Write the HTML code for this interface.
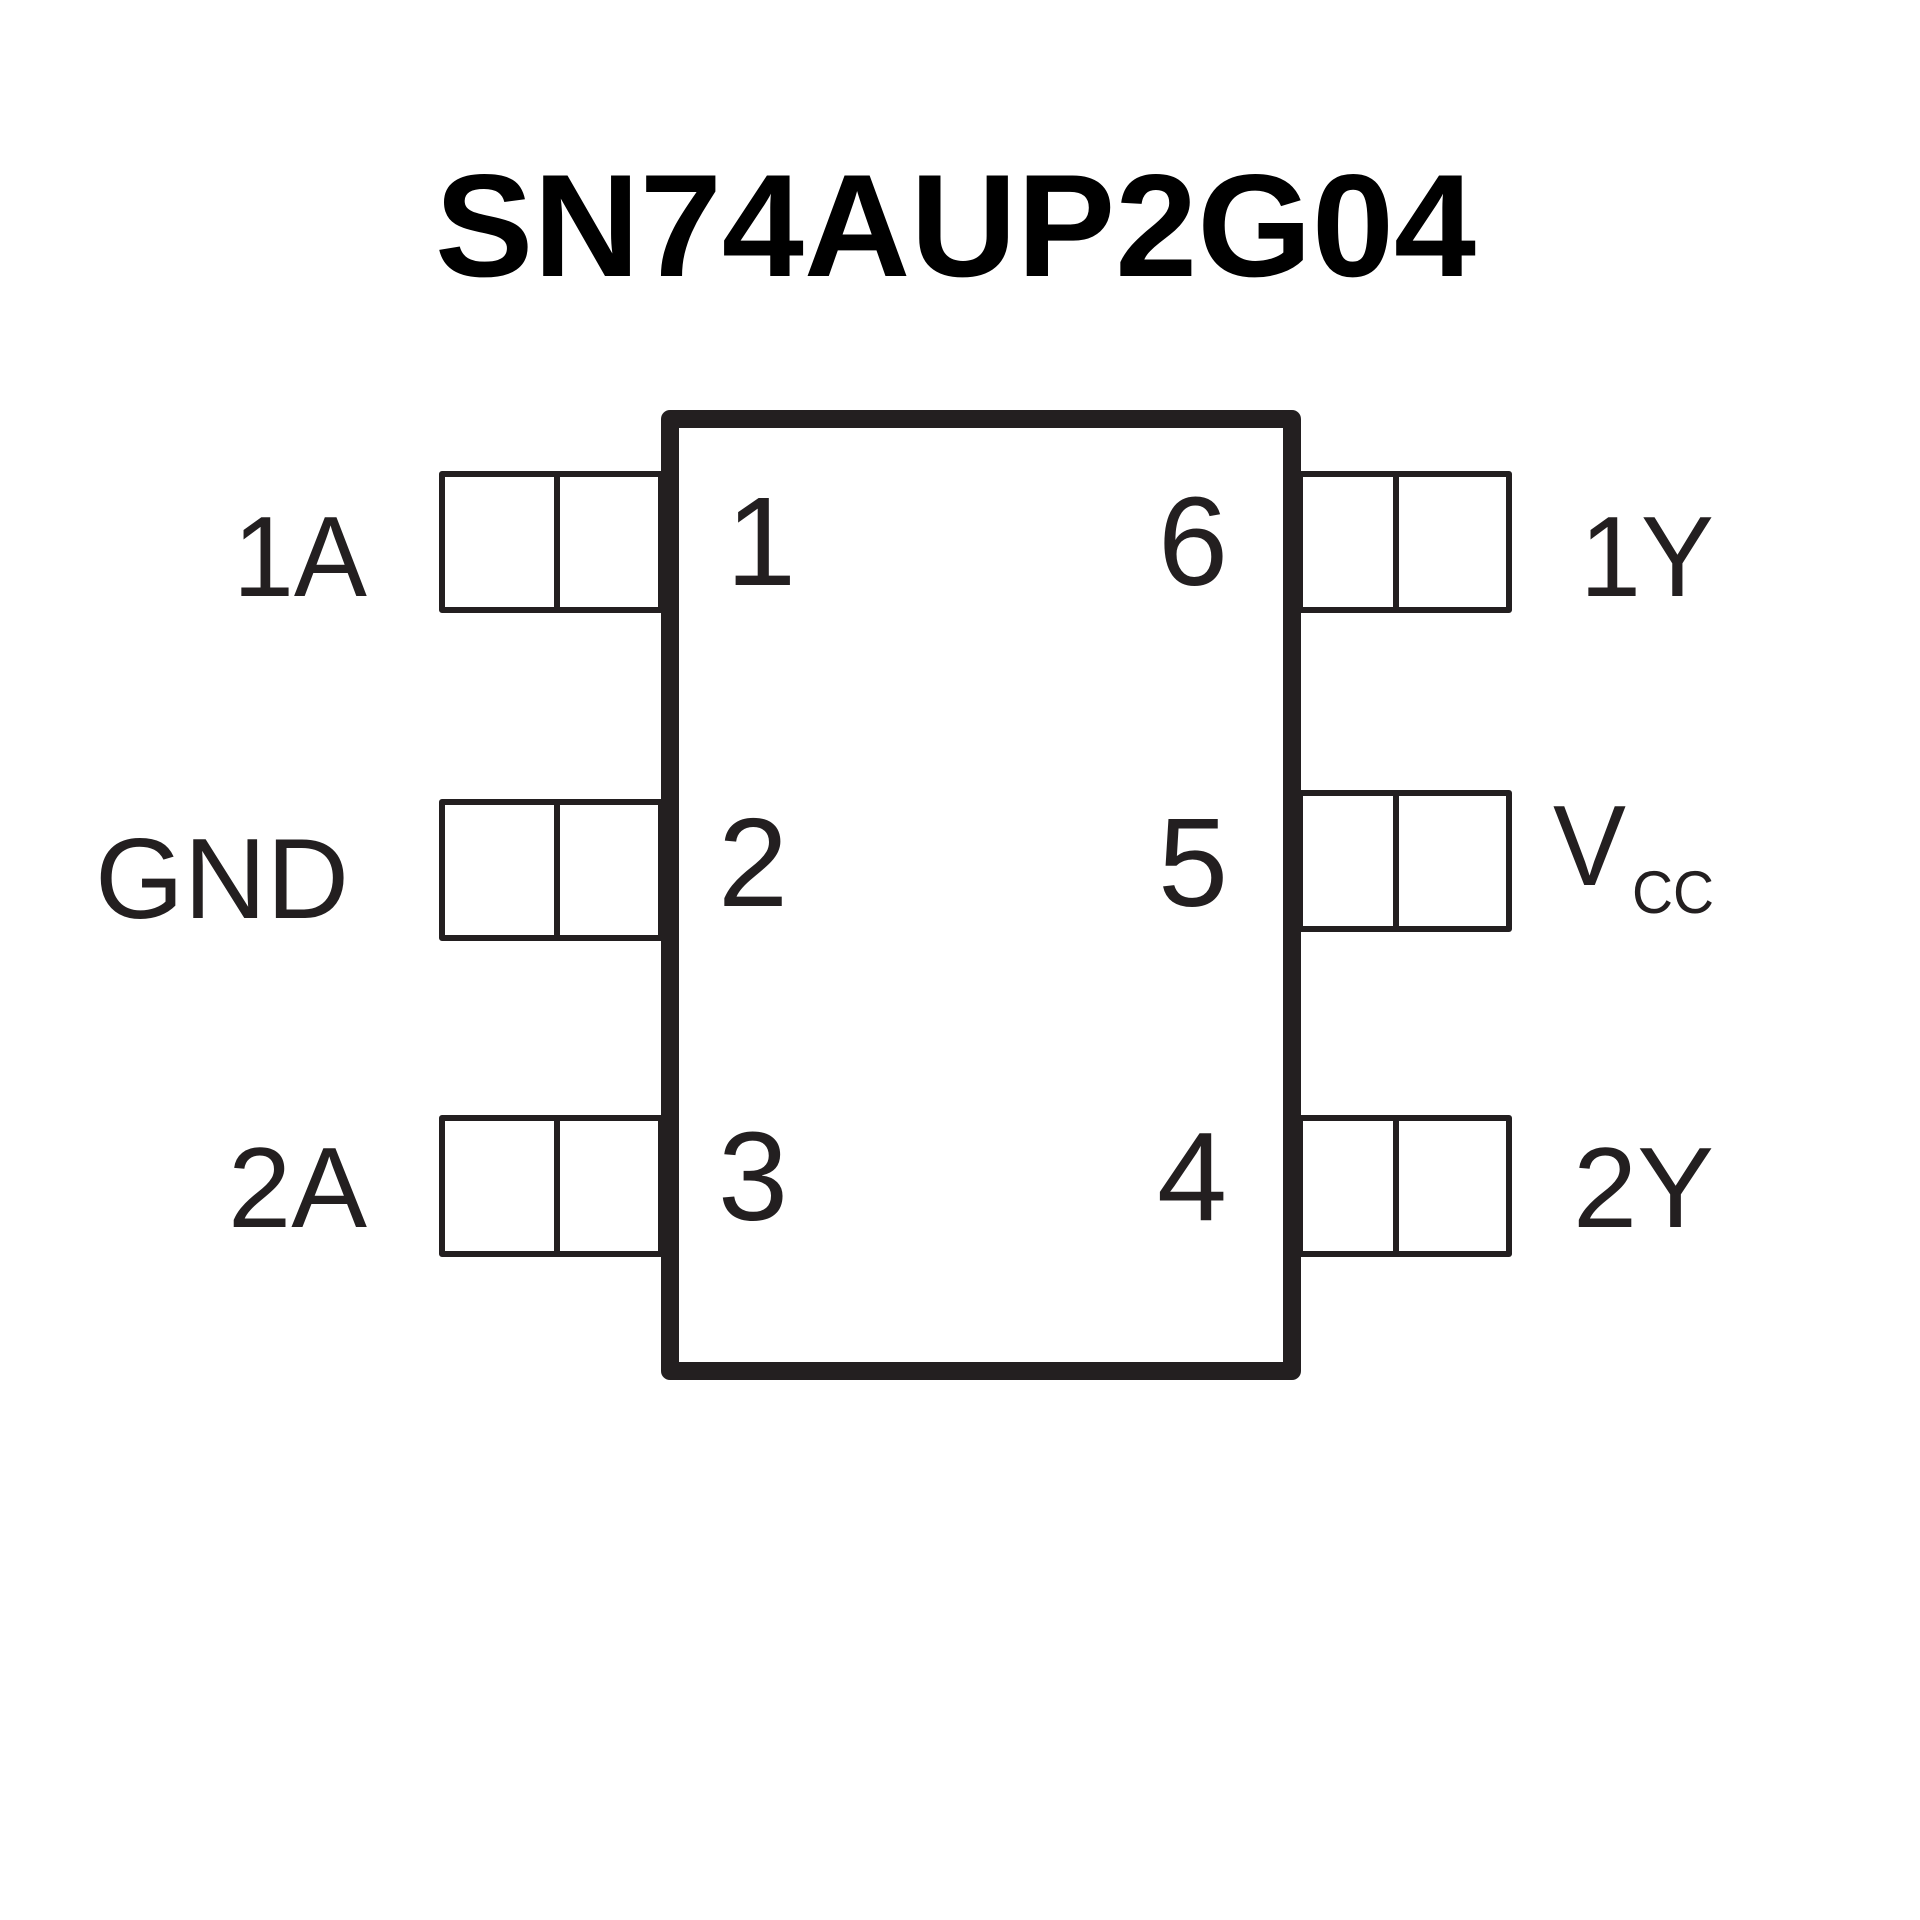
<!DOCTYPE html>
<html><head><meta charset="utf-8"><style>html,body{margin:0;padding:0;background:#fff}svg{display:block}</style></head>
<body>
<svg width="1920" height="1920" viewBox="0 0 1920 1920" xmlns="http://www.w3.org/2000/svg">
<rect width="1920" height="1920" fill="#fff"/>
<text x="435" y="276" font-family="Liberation Sans, sans-serif" font-weight="bold" font-size="146" textLength="1041" lengthAdjust="spacingAndGlyphs" fill="#000">SN74AUP2G04</text>
<g fill="none" stroke="#231f20" stroke-width="6" stroke-linejoin="round">
<rect x="442" y="474" width="219" height="136"/><line x1="557" y1="474" x2="557" y2="610"/>
<rect x="442" y="802" width="219" height="136"/><line x1="557" y1="802" x2="557" y2="938"/>
<rect x="442" y="1118" width="219" height="136"/><line x1="557" y1="1118" x2="557" y2="1254"/>
<rect x="1300" y="474" width="209" height="136"/><line x1="1396" y1="474" x2="1396" y2="610"/>
<rect x="1300" y="793" width="209" height="136"/><line x1="1396" y1="793" x2="1396" y2="929"/>
<rect x="1300" y="1118" width="209" height="136"/><line x1="1396" y1="1118" x2="1396" y2="1254"/>
</g>
<rect x="670" y="419" width="622" height="952" fill="#fff" stroke="#231f20" stroke-width="18" stroke-linejoin="round"/>
<g font-family="Liberation Sans, sans-serif" fill="#231f20" font-size="114">
<text x="233" y="596" textLength="134" lengthAdjust="spacingAndGlyphs">1A</text>
<text x="95" y="918" textLength="254" lengthAdjust="spacingAndGlyphs">GND</text>
<text x="228" y="1227" textLength="139" lengthAdjust="spacingAndGlyphs">2A</text>
<text x="1580" y="596" textLength="134" lengthAdjust="spacingAndGlyphs">1Y</text>
<text x="1573" y="1227" textLength="141" lengthAdjust="spacingAndGlyphs">2Y</text>
<text x="1553" y="885" textLength="73" lengthAdjust="spacingAndGlyphs">V</text>
<text x="1632" y="913" font-size="60" textLength="82" lengthAdjust="spacingAndGlyphs">CC</text>
</g>
<g font-family="Liberation Sans, sans-serif" fill="#231f20" font-size="126">
<text x="726" y="585">1</text>
<text x="718" y="906">2</text>
<text x="718" y="1220">3</text>
<text x="1158" y="585">6</text>
<text x="1158" y="906">5</text>
<text x="1157" y="1220">4</text>
</g>
</svg>
</body></html>
